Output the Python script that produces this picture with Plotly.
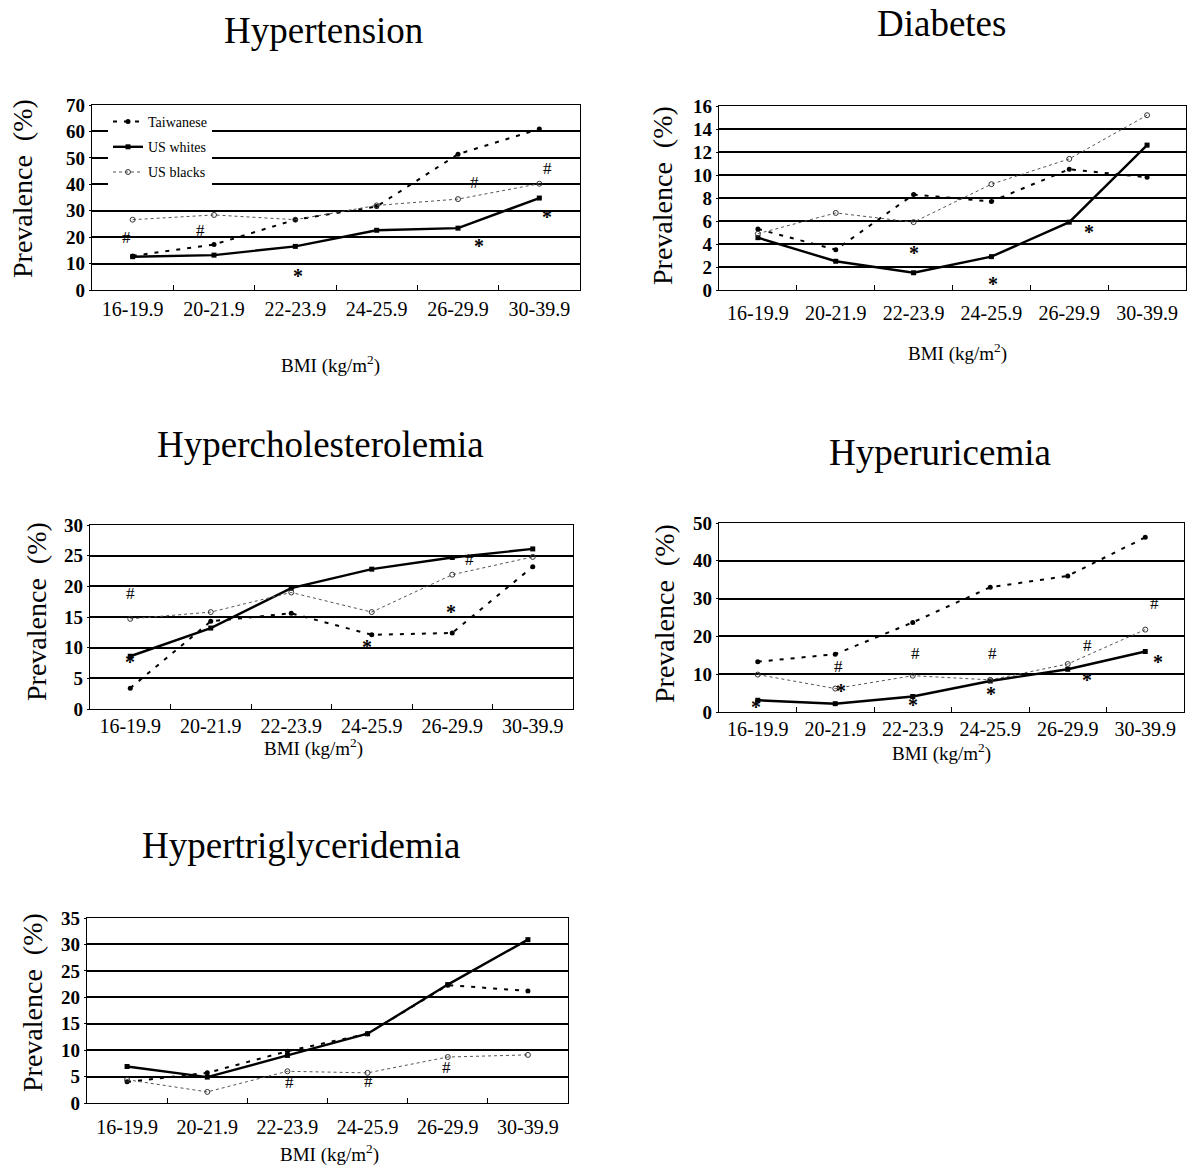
import plotly.graph_objects as go

W, H = 1193, 1167

categories = ["16-19.9", "20-21.9", "22-23.9", "24-25.9", "26-29.9", "30-39.9"]

# Hypertension
htn_tw = [12.9, 17.2, 26.6, 31.6, 51.4, 60.9]
htn_wh = [12.6, 13.2, 16.5, 22.6, 23.4, 34.8]
htn_bl = [26.6, 28.4, 26.6, 32.0, 34.4, 40.2]
# Diabetes
dm_tw = [5.3, 3.5, 8.3, 7.7, 10.5, 9.8]
dm_wh = [4.55, 2.5, 1.5, 2.9, 5.9, 12.6]
dm_bl = [4.9, 6.7, 5.9, 9.2, 11.4, 15.2]
# Hypercholesterolemia
hc_tw = [3.4, 14.3, 15.6, 12.1, 12.4, 23.2]
hc_wh = [8.6, 13.2, 19.7, 22.8, 24.7, 26.1]
hc_bl = [14.7, 15.8, 19.0, 15.8, 21.9, 24.8]
# Hyperuricemia
hu_tw = [13.3, 15.3, 23.7, 33.0, 36.0, 46.2]
hu_wh = [3.1, 2.2, 4.1, 8.2, 11.3, 16.0]
hu_bl = [9.9, 6.2, 9.6, 8.5, 12.7, 21.8]
# Hypertriglyceridemia
tg_tw = [4.0, 5.7, 9.8, 13.1, 22.3, 21.2]
tg_wh = [6.9, 4.9, 9.0, 13.1, 22.4, 30.9]
tg_bl = [4.4, 2.1, 6.0, 5.7, 8.7, 9.1]

series_names = ["Taiwanese", "US whites", "US blacks"]

# significance marks: (x on category index scale, y value, symbol)
htn_marks = [(-0.08, 20.0, "#"), (0.83, 22.6, "#"), (2.03, 7.0, "*"), (4.2, 40.5, "#"),
             (4.26, 18.0, "*"), (5.1, 46.0, "#"), (5.1, 29.0, "*")]
dm_marks = [(2.0, 3.6, "*"), (3.02, 0.9, "*"), (4.25, 5.4, "*")]
hc_marks = [(0.0, 18.9, "#"), (0.0, 8.3, "*"), (2.94, 10.8, "*"), (3.99, 16.5, "*"), (4.21, 24.3, "#")]
hu_marks = [(-0.02, 2.4, "*"), (1.04, 12.0, "#"), (1.08, 6.7, "*"), (2.03, 15.6, "#"), (2.0, 2.9, "*"),
            (3.03, 15.6, "#"), (3.01, 5.8, "*"), (4.26, 17.7, "#"), (4.25, 9.5, "*"),
            (5.12, 28.8, "#"), (5.17, 14.3, "*")]
tg_marks = [(2.03, 3.8, "#"), (3.01, 4.0, "#"), (3.99, 6.8, "#")]

panels = [
    dict(title="Hypertension", tw=htn_tw, wh=htn_wh, bl=htn_bl, yr=[0, 70], dt=10, marks=htn_marks,
         px=(92, 580), py=(105, 290), tpos=(323, 31), xlab=(330, 365), ylab=(23, 189), so=1),
    dict(title="Diabetes", tw=dm_tw, wh=dm_wh, bl=dm_bl, yr=[0, 16], dt=2, marks=dm_marks,
         px=(719, 1186), py=(106, 290), tpos=(941, 24), xlab=(957, 352), ylab=(662, 196), so=5),
    dict(title="Hypercholesterolemia", tw=hc_tw, wh=hc_wh, bl=hc_bl, yr=[0, 30], dt=5, marks=hc_marks,
         px=(90, 573), py=(525, 709), tpos=(320, 444), xlab=(313, 747), ylab=(36, 612), so=-1),
    dict(title="Hyperuricemia", tw=hu_tw, wh=hu_wh, bl=hu_bl, yr=[0, 50], dt=10, marks=hu_marks,
         px=(719, 1184), py=(523, 712), tpos=(940, 452), xlab=(941, 752), ylab=(664, 614), so=-1),
    dict(title="Hypertriglyceridemia", tw=tg_tw, wh=tg_wh, bl=tg_bl, yr=[0, 35], dt=5, marks=tg_marks,
         px=(87, 568), py=(918, 1103), tpos=(301, 845), xlab=(329, 1153), ylab=(32, 1003), so=6),
]

SERIF = "Liberation Serif, Times New Roman, serif"

fig = go.Figure()
annotations = []
layout = {}

for i, p in enumerate(panels):
    n = "" if i == 0 else str(i + 1)
    xa, ya = "x" + n, "y" + n
    show_leg = (i == 0)
    fig.add_trace(go.Scatter(x=categories, y=p["tw"], name=series_names[0], xaxis=xa, yaxis=ya,
                             mode="lines+markers", showlegend=show_leg, legendgroup="a",
                             line=dict(color="black", width=2, dash="4px,7px"),
                             marker=dict(symbol="circle", size=5, color="black")))
    fig.add_trace(go.Scatter(x=categories, y=p["wh"], name=series_names[1], xaxis=xa, yaxis=ya,
                             mode="lines+markers", showlegend=show_leg, legendgroup="b",
                             line=dict(color="black", width=2.4),
                             marker=dict(symbol="square", size=5, color="black")))
    fig.add_trace(go.Scatter(x=categories, y=p["bl"], name=series_names[2], xaxis=xa, yaxis=ya,
                             mode="lines+markers", showlegend=show_leg, legendgroup="c",
                             line=dict(color="#555555", width=1, dash="dot"),
                             marker=dict(symbol="circle-open", size=5, color="#333333",
                                         line=dict(width=1))))
    x0, x1 = p["px"]
    y0, y1 = p["py"]
    layout["xaxis" + n] = dict(domain=[x0 / W, x1 / W], anchor=ya, type="category",
                               range=[-0.5, 5.5], tickson="boundaries", ticks="inside", ticklen=5,
                               tickcolor="black", showline=True, linecolor="black", linewidth=1.3,
                               mirror=True, showgrid=False, zeroline=False, automargin=False,
                               ticklabelstandoff=p["so"],
                               tickfont=dict(family=SERIF, size=20, color="black"))
    layout["yaxis" + n] = dict(domain=[1 - y1 / H, 1 - y0 / H], anchor=xa, range=p["yr"],
                               dtick=p["dt"], tick0=0, showline=True, linecolor="black", linewidth=1.3,
                               mirror=True, showgrid=True, gridcolor="black", gridwidth=1.5,
                               zeroline=False, ticks="outside", ticklen=2, tickcolor="black",
                               automargin=False,
                               tickfont=dict(family=SERIF, size=19, color="black", weight="bold"))
    for (mx, my, s) in p["marks"]:
        if s == "*":
            annotations.append(dict(x=mx, y=my, xref=xa, yref=ya, text="*", showarrow=False,
                                    yshift=-4, font=dict(family=SERIF, size=20, color="black",
                                                         weight="bold")))
        else:
            annotations.append(dict(x=mx, y=my, xref=xa, yref=ya, text="#", showarrow=False,
                                    font=dict(family=SERIF, size=17, color="black")))
    tx, ty = p["tpos"]
    annotations.append(dict(x=tx / W, y=1 - ty / H, xref="paper", yref="paper", text=p["title"],
                            showarrow=False, xanchor="center", yanchor="middle",
                            font=dict(family=SERIF, size=37, color="black")))
    lx, ly = p["xlab"]
    annotations.append(dict(x=lx / W, y=1 - ly / H, xref="paper", yref="paper",
                            text="BMI (kg/m<sup>2</sup>)", showarrow=False, xanchor="center",
                            yanchor="middle", font=dict(family=SERIF, size=19, color="black")))
    vx, vy = p["ylab"]
    annotations.append(dict(x=vx / W, y=1 - vy / H, xref="paper", yref="paper",
                            text="Prevalence  (%)", showarrow=False, textangle=-90,
                            xanchor="center", yanchor="middle",
                            font=dict(family=SERIF, size=28, color="black")))

fig.update_layout(
    width=W, height=H, margin=dict(l=0, r=0, t=0, b=0, pad=0, autoexpand=False),
    paper_bgcolor="white", plot_bgcolor="white",
    showlegend=True,
    legend=dict(x=108 / W, y=1 - 106 / H, xanchor="left", yanchor="top",
                bgcolor="white",
                font=dict(family=SERIF, size=14, color="black"), tracegroupgap=4,
                itemwidth=30),
    annotations=annotations,
    **layout,
)

fig.write_html(
    "out.html",
    config={"displayModeBar": False},
    post_script=(
        "var d=document.getElementById('{plot_id}');"
        "d.style.position='fixed';d.style.top='0px';d.style.left='0px';"
        "document.body.style.margin='0';document.body.style.padding='0';"
        "document.documentElement.style.overflow='hidden';document.body.style.overflow='hidden';"
    ),
)
